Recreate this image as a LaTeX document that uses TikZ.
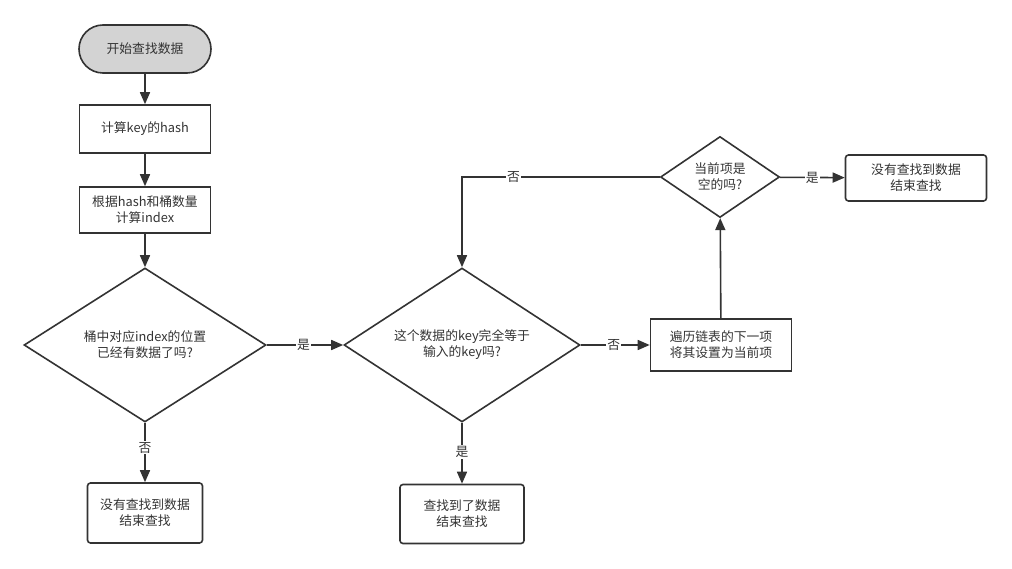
\documentclass[tikz,border=0pt]{standalone}
\usepackage{fontspec}
\setmainfont{Noto Sans CJK SC}
\usetikzlibrary{shapes.geometric,arrows.meta}
\definecolor{ln}{HTML}{333333}
\definecolor{gr}{HTML}{D3D3D3}
\begin{document}
\begin{tikzpicture}[x=1pt,y=-1pt,
  every node/.style={font=\fontsize{12.8}{16}\selectfont, text=ln, align=center},
  box/.style={draw=ln, line width=1.6pt, rectangle, inner sep=0pt},
  endbox/.style={box, rounded corners=3pt},
  dec/.style={draw=ln, line width=1.6pt, diamond, inner sep=0pt},
  arr/.style={draw=ln, line width=1.6pt, -{Triangle[length=12pt,width=10pt]}},
  lab/.style={fill=white, inner sep=1pt, font=\fontsize{12.8}{14}\selectfont}]
\useasboundingbox (0,0) rectangle (1012,569);
\node[box, rounded corners=24pt, fill=gr, minimum width=132pt, minimum height=48pt] (start) at (145,49) {开始查找数据};
\node[box, minimum width=131pt, minimum height=48pt] (hash) at (145,129) {计算key的hash};
\node[box, minimum width=131pt, minimum height=46pt] (idx) at (145,210) {根据hash和桶数量\\计算index};
\node[dec, aspect=1.57, minimum width=242pt, minimum height=154pt] (d1) at (145,345) {桶中对应index的位置\\已经有数据了吗?};
\node[endbox, minimum width=115pt, minimum height=60pt] (nf1) at (145,513) {没有查找到数据\\结束查找};
\node[dec, aspect=1.53, minimum width=236pt, minimum height=154pt] (d2) at (462,345) {这个数据的key完全等于\\输入的key吗?};
\node[endbox, minimum width=124pt, minimum height=59pt] (found) at (462,514) {查找到了数据\\结束查找};
\node[box, minimum width=141pt, minimum height=52pt] (trav) at (721,345) {遍历链表的下一项\\将其设置为当前项};
\node[dec, aspect=1.46, minimum width=119pt, minimum height=81pt] (d3) at (720,177) {当前项是\\空的吗?};
\node[endbox, minimum width=141pt, minimum height=46pt] (nf2) at (916,178) {没有查找到数据\\结束查找};
\coordinate (bend) at (462,177);
\draw[arr] (start) -- (hash);
\draw[arr] (hash) -- (idx);
\draw[arr] (idx) -- (d1);
\draw[arr] (d1) -- node[lab, pos=0.42] {否} (nf1);
\draw[arr] (d1) -- node[lab, pos=0.48] {是} (d2);
\draw[arr] (d2) -- node[lab, pos=0.48] {是} (found);
\draw[arr] (d2) -- node[lab, pos=0.48] {否} (trav);
\draw[arr] (trav) -- (d3);
\draw[arr] (d3) -- node[lab, pos=0.5] {是} (nf2);
\draw[arr] (d3.west) -- node[lab, pos=0.74] {否} (bend) -- (d2.north);
\end{tikzpicture}
\end{document}
